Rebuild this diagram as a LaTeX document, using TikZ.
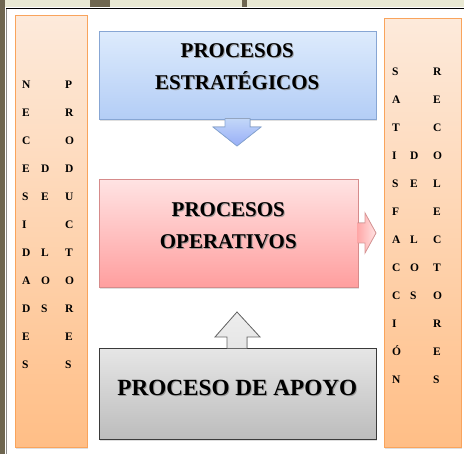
\documentclass[tikz,border=0pt]{standalone}
\usepackage{fontspec}
\setmainfont{Liberation Serif}
\usetikzlibrary{shadows}
\definecolor{orT}{HTML}{FDEADB}
\definecolor{orB}{HTML}{FFBE86}
\definecolor{orD}{HTML}{F9A45C}
\definecolor{blT}{HTML}{DDEBFC}
\definecolor{blB}{HTML}{B3CDF6}
\definecolor{blD}{HTML}{87A6D4}
\definecolor{piT}{HTML}{FFE3E3}
\definecolor{piB}{HTML}{FF9E9E}
\definecolor{piD}{HTML}{D68B8B}
\definecolor{grT}{HTML}{E6E6E6}
\definecolor{grB}{HTML}{BCBCBC}
\definecolor{grD}{HTML}{3A3A3A}
\definecolor{strip}{HTML}{E9E9D3}
\definecolor{olive}{HTML}{6E6650}
\tikzset{
  box/.style={draw, line width=0.9pt, inner sep=0pt, drop shadow={opacity=0.25, shadow xshift=1pt, shadow yshift=-1.5pt}},
  bigtxt/.style={font=\bfseries\fontsize{21}{32}\selectfont, align=center, inner sep=0pt},
  apoyotxt/.style={font=\bfseries\fontsize{23.2}{28}\selectfont, inner sep=0pt},
  shad/.style={text=black!45, opacity=0.8},
  letter/.style={font=\bfseries\fontsize{11.5}{12}\selectfont, anchor=base west, inner sep=0pt},
}
\begin{document}
\begin{tikzpicture}[x=1pt,y=-1pt]
\useasboundingbox (0,0) rectangle (464,454);
% screenshot edges
\fill[strip] (0,0) rectangle (464,7);
\fill[olive] (90,0) rectangle (110,7);
\fill[olive] (242,0) rectangle (247,7);
\fill[olive] (0,0) rectangle (4.5,454);
\fill[white] (4.5,7) rectangle (464,454);
\draw[black!45, line width=0.8pt] (6.5,8) -- (6.5,454);
\draw[black, line width=1pt] (6,8.3) -- (464,8.3);

% side boxes
\node[box, draw=orD, top color=orT, bottom color=orB, minimum width=72pt, minimum height=432pt, anchor=north west] (left) at (15,15) {};
\node[box, draw=orD, top color=orT, bottom color=orB, minimum width=77pt, minimum height=429pt, anchor=north west] (right) at (384,18) {};

% main boxes
\node[box, draw=blD, top color=blT, bottom color=blB, minimum width=277pt, minimum height=88pt, anchor=north west] (estr) at (99,31) {};
\node[box, draw=piD, top color=piT, bottom color=piB, minimum width=259pt, minimum height=108pt, anchor=north west] (oper) at (99,179) {};
\node[box, draw=grD, top color=grT, bottom color=grB, minimum width=277pt, minimum height=91pt, anchor=north west] (apoyo) at (99,348) {};

% arrows
\coordinate (dA) at (estr.south);
\fill[top color=blB!80!white, bottom color=blB!85!blue] (225,118.5) -- (225,127) -- (213,127) -- (237,146) -- (261,127) -- (250,127) -- (250,118.5) -- cycle;
\draw[blD, line width=0.8pt, line join=miter] (225,118.5) -- (225,127) -- (213,127) -- (237,146) -- (261,127) -- (250,127) -- (250,118.5);

\coordinate (rA) at (oper.east);
\fill[left color=piB!90!white, right color=piT] (357.5,223) -- (365,223) -- (365,213) -- (376,233) -- (365,253) -- (365,243) -- (357.5,243) -- cycle;
\draw[piD!90!white, line width=0.8pt, line join=miter] (357.5,223) -- (365,223) -- (365,213) -- (376,233) -- (365,253) -- (365,243) -- (357.5,243);

\coordinate (uA) at (apoyo.north);
\fill[top color=grT!70!white, bottom color=grT] (227,348.5) -- (227,337) -- (215,337) -- (237,312) -- (260,337) -- (247,337) -- (247,348.5) -- cycle;
\draw[black!60, line width=0.8pt, line join=miter] (227,348.5) -- (227,337) -- (215,337) -- (237,312) -- (260,337) -- (247,337) -- (247,348.5);

% main texts
\node[bigtxt, shad] at (238.3,67.3) {PROCESOS\\ESTRATÉGICOS};
\node[bigtxt] (testr) at (237.3,66.3) {PROCESOS\\ESTRATÉGICOS};
\node[bigtxt, shad] at (229.3,226.3) {PROCESOS\\OPERATIVOS};
\node[bigtxt] (toper) at (228.3,225.3) {PROCESOS\\OPERATIVOS};
\node[apoyotxt, shad, anchor=base] at (238.3,396.2) {PROCESO DE APOYO};
\node[apoyotxt, anchor=base] (tapoyo) at (237.3,395.2) {PROCESO DE APOYO};

% vertical letters, left box
\foreach \l [count=\i from 0] in {N,E,C,E,S,I,D,A,D,E,S}
  \node[letter] (la\i) at (22,89+28*\i) {\l};
\foreach \l/\r in {D/3,E/4,L/6,O/7,S/8}
  \node[letter] (lb\r) at (41,89+28*\r) {\l};
\foreach \l [count=\i from 0] in {P,R,O,D,U,C,T,O,R,E,S}
  \node[letter] (lc\i) at (65,89+28*\i) {\l};

% vertical letters, right box
\foreach \l [count=\i from 0] in {S,A,T,I,S,F,A,C,C,I,Ó,N}
  \node[letter] (ra\i) at (392,76+28*\i) {\l};
\foreach \l/\r in {D/3,E/4,L/6,O/7,S/8}
  \node[letter] (rb\r) at (410,76+28*\r) {\l};
\foreach \l [count=\i from 0] in {R,E,C,O,L,E,C,T,O,R,E,S}
  \node[letter] (rc\i) at (433,76+28*\i) {\l};
\end{tikzpicture}
\end{document}
